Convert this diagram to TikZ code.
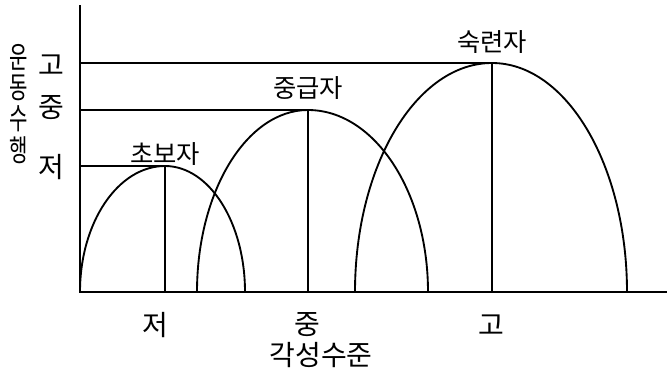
\documentclass[tikz,border=0pt]{standalone}
\usepackage{fontspec}
\setmainfont{Noto Sans CJK KR}
\usetikzlibrary{positioning,calc}

\begin{document}
\begin{tikzpicture}[x=0.75pt,y=0.75pt,
  axis/.style={line width=1.5pt},
  curve/.style={line width=1.4pt},
  guide/.style={line width=0.9pt},
  lab/.style={font=\fontsize{19}{21}\selectfont,inner sep=0pt},
  tick/.style={font=\fontsize{21}{23}\selectfont,inner sep=0pt},
  ttl/.style={font=\fontsize{21}{23}\selectfont,inner sep=0pt}]
\useasboundingbox (0,0) rectangle (667,380);
% axes
\coordinate (o) at (80,88);
\coordinate (ytop) at (80,375);
\coordinate (xend) at (667,88);
\draw[axis] (ytop) -- (o) -- (xend);
% peaks of the three curves
\coordinate (p1) at (165,214);
\coordinate (p2) at (308,270);
\coordinate (p3) at (492,317);
\draw[guide] (p1 -| o) -- (p1) -- (p1 |- o);
\draw[guide] (p2 -| o) -- (p2) -- (p2 |- o);
\draw[guide] (p3 -| o) -- (p3) -- (p3 |- o);
% curves
\coordinate (s1) at (80,88);
\coordinate (s2) at (197,88);
\coordinate (s3) at (355,88);
\draw[curve] (s1) arc[start angle=180,end angle=90,x radius=85,y radius=126]
  arc[start angle=90,end angle=0,x radius=80,y radius=126];
\draw[curve] (s2) arc[start angle=180,end angle=90,x radius=111,y radius=182]
  arc[start angle=90,end angle=0,x radius=120,y radius=182];
\draw[curve] (s3) arc[start angle=180,end angle=90,x radius=137,y radius=229]
  arc[start angle=90,end angle=0,x radius=135,y radius=229];
% curve titles
\node[lab] (n1) at (165,226) {초보자};
\node[lab] (n2) at (308,292) {중급자};
\node[lab] (n3) at (492,338) {숙련자};
% y labels
\node[tick] (yh) at (51,315) {고};
\node[tick] (ym) at (51,272) {중};
\node[tick] (yl) at (51,213) {저};
\node[inner sep=0pt] (ytitle) at (19,274) {\scalebox{0.5}[0.75]{\fontsize{30}{23}\selectfont
  \begin{tabular}{@{}c@{}}운\\동\\수\\행\end{tabular}}};
% x labels
\node[tick] (xl) at (155,55) {저};
\node[tick] (xm) at (307,55) {중};
\node[tick] (xh) at (491,55) {고};
\node[ttl] (xtitle) at (321,25) {각성수준};
\end{tikzpicture}
\end{document}
